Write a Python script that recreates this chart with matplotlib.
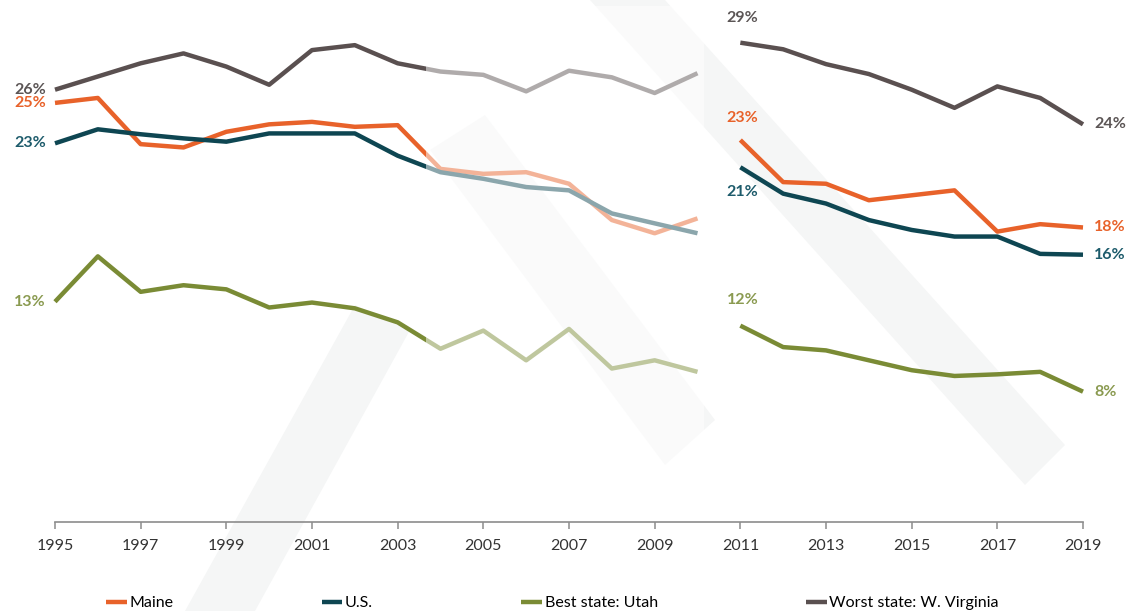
import numpy as np
import matplotlib.pyplot as plt
from matplotlib.patches import Rectangle, Polygon

# data (percent)
years_a = list(range(1995, 2011))
years_b = list(range(2011, 2020))

maine_a = [25.4, 25.7, 22.9, 22.7, 23.65, 24.1, 24.25, 23.95, 24.05, 21.4, 21.1, 21.2, 20.5, 18.3, 17.5, 18.4]
us_a = [22.95, 23.8, 23.5, 23.25, 23.05, 23.55, 23.55, 23.55, 22.2, 21.2, 20.8, 20.3, 20.1, 18.7, 18.1, 17.5]
utah_a = [13.35, 16.1, 13.95, 14.35, 14.1, 13.0, 13.3, 12.95, 12.1, 10.5, 11.6, 9.8, 11.7, 9.3, 9.8, 9.1]
wv_a = [26.2, 27.0, 27.8, 28.4, 27.6, 26.5, 28.6, 28.9, 27.8, 27.3, 27.1, 26.1, 27.35, 26.95, 26.0, 27.2]

maine_b = [23.15, 20.6, 20.5, 19.5, 19.8, 20.1, 17.6, 18.05, 17.85]
us_b = [21.5, 19.9, 19.3, 18.3, 17.7, 17.3, 17.3, 16.25, 16.2]
utah_b = [11.9, 10.6, 10.4, 9.8, 9.2, 8.85, 8.95, 9.1, 7.9]
wv_b = [29.05, 28.65, 27.75, 27.15, 26.2, 25.1, 26.4, 25.7, 24.1]

names = ["Maine", "U.S.", "Best state: Utah", "Worst state: W. Virginia"]
colors = ["#e8622a", "#0e4652", "#7a8b35", "#5a5050"]
label_colors = ["#e8622a", "#1d5b6b", "#8a9a50", "#5b5555"]

start_labels = ["25%", "23%", "13%", "26%"]
mid_labels = ["23%", "21%", "12%", "29%"]
end_labels = ["18%", "16%", "8%", "24%"]
mid_offsets = [22, -25, 26, 25]   # pixels above (+) / below (-) the 2011 point

fade_start = 2003.67
fade_end = 2010

plt.rcParams['font.family'] = ['Lato', 'DejaVu Sans']

fig = plt.figure(figsize=(11.31, 6.11), dpi=100)
ax = fig.add_axes([55 / 1131, 1 - 522 / 611, 1028 / 1131, (522 - 10.5) / 611])

# faint watermark bands behind everything
wm = "#f5f6f6"
for pts in [[(590, 0), (665, 0), (1065, 445), (1025, 485)],
            [(430, 150), (485, 115), (715, 420), (665, 465)],
            [(185, 611), (255, 611), (410, 330), (355, 305)]]:
    ax.add_patch(Polygon([(x / 1131, 1 - y / 611) for x, y in pts],
                         closed=True, transform=fig.transFigure,
                         facecolor=wm, edgecolor="none", zorder=0, clip_on=False))

series_a = [maine_a, us_a, utah_a, wv_a]
series_b = [maine_b, us_b, utah_b, wv_b]
order = [3, 2, 0, 1]
for i in order:
    ax.plot(years_a, series_a[i], color=colors[i], lw=3.2, zorder=3,
            solid_joinstyle="round", solid_capstyle="butt", clip_on=False)
    ax.plot(years_b, series_b[i], color=colors[i], lw=3.2, zorder=3,
            solid_joinstyle="round", solid_capstyle="butt", clip_on=False,
            label=names[i])

# washed out part of the older series
ax.add_patch(Rectangle((fade_start, 0.3), fade_end + 0.15 - fade_start, 31,
                       facecolor="white", alpha=0.52, edgecolor="none",
                       zorder=5, clip_on=False))

lab_kw = dict(textcoords="offset pixels", fontsize=11.5, fontweight="bold",
              annotation_clip=False, zorder=6)
for i in range(4):
    ax.annotate(start_labels[i], (years_a[0], series_a[i][0]), xytext=(-9, 0),
                ha="right", va="center", color=label_colors[i], **lab_kw)
    ax.annotate(mid_labels[i], (years_b[0], series_b[i][0]), xytext=(2, mid_offsets[i]),
                ha="center", va="center", color=label_colors[i], **lab_kw)
    ax.annotate(end_labels[i], (years_b[-1], series_b[i][-1]), xytext=(11, 0),
                ha="left", va="center", color=label_colors[i], **lab_kw)

ax.set_xlim(1995, 2019)
ax.set_ylim(0, 31)
ax.set_facecolor("none")
for s in ["left", "right", "top"]:
    ax.spines[s].set_visible(False)
ax.spines["bottom"].set_color("#8c8c8c")
ax.spines["bottom"].set_linewidth(1.2)
ax.spines["bottom"].set_zorder(7)
ax.set_yticks([])
ax.set_xticks(range(1995, 2020, 2))
ax.tick_params(axis="x", direction="out", length=5, width=1.1, color="#8c8c8c",
               labelsize=11.5, labelcolor="#333333", pad=7)

handles, labels = ax.get_legend_handles_labels()
hmap = dict(zip(labels, handles))
fig.legend([hmap[n] for n in names], names, loc="center left",
           bbox_to_anchor=(106 / 1131, 1 - 603 / 611), ncol=4, frameon=False,
           fontsize=11.5, handlelength=1.3, handletextpad=0.15,
           columnspacing=9.3, borderpad=0, borderaxespad=0)

fig.savefig("out.png", dpi=100)
